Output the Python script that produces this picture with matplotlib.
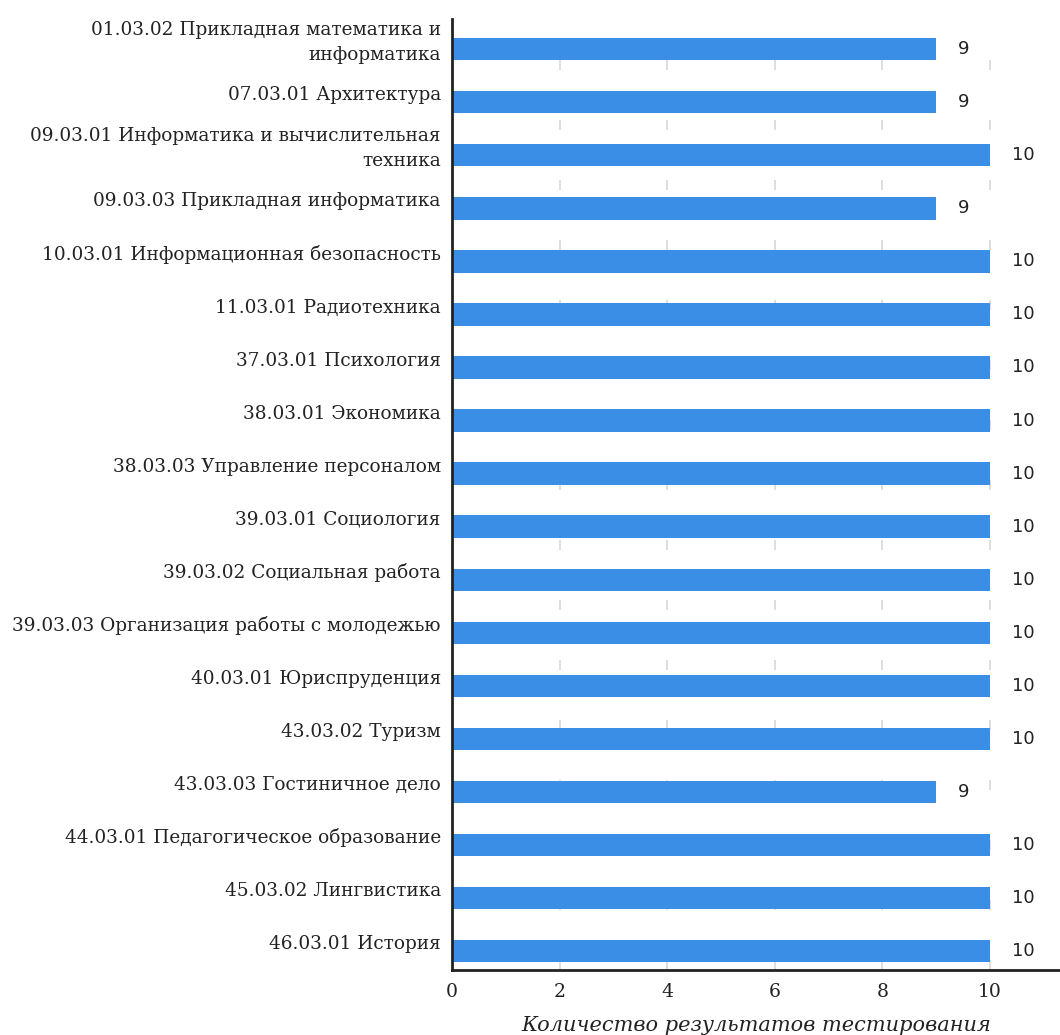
import matplotlib
matplotlib.use("Agg")
import matplotlib.pyplot as plt

programs = [
    "01.03.02 Прикладная математика и\nинформатика",
    "07.03.01 Архитектура",
    "09.03.01 Информатика и вычислительная\nтехника",
    "09.03.03 Прикладная информатика",
    "10.03.01 Информационная безопасность",
    "11.03.01 Радиотехника",
    "37.03.01 Психология",
    "38.03.01 Экономика",
    "38.03.03 Управление персоналом",
    "39.03.01 Социология",
    "39.03.02 Социальная работа",
    "39.03.03 Организация работы с молодежью",
    "40.03.01 Юриспруденция",
    "43.03.02 Туризм",
    "43.03.03 Гостиничное дело",
    "44.03.01 Педагогическое образование",
    "45.03.02 Лингвистика",
    "46.03.01 История",
]
counts = [9, 9, 10, 9, 10, 10, 10, 10, 10, 10, 10, 10, 10, 10, 9, 10, 10, 10]
xticks = [0, 2, 4, 6, 8, 10]

fig = plt.figure(figsize=(10.6, 10.35), dpi=100)
ax = fig.add_axes([0.4264, 0.0628, 0.5736, 0.9188])

pos = list(range(len(programs)))
ax.barh(pos, counts, height=0.42, color="#3a8ee6", zorder=2)

for y, v in zip(pos, counts):
    ax.text(v + 0.4, y, str(v), va="center", ha="left",
            fontsize=13, family="DejaVu Sans", color="#222222")

# category labels sit a little above the bar centre, as in the original
ax.set_yticks(pos)
ax.set_yticklabels([])
for y, name in zip(pos, programs):
    ax.annotate(name, xy=(0, y), xycoords=("axes fraction", "data"),
                xytext=(-8, 5.0), textcoords="offset points",
                ha="right", va="center", multialignment="right",
                family="DejaVu Serif", fontsize=13.3, color="#222222",
                linespacing=1.5, annotation_clip=False)

ax.set_xticks(xticks)
ax.set_xticklabels([str(t) for t in xticks], family="DejaVu Serif",
                   fontsize=13.5, color="#222222")
ax.tick_params(axis="both", length=0)
ax.tick_params(axis="x", pad=9)

ax.set_xlim(0, 11.3)
ax.set_ylim(17.36, -0.57)

ax.grid(axis="x", color="#d8d8d8", linestyle=(0, (6, 30)), linewidth=1.2, zorder=0)
ax.set_axisbelow(True)

for s in ["top", "right"]:
    ax.spines[s].set_visible(False)
ax.spines["left"].set_color("#222222")
ax.spines["left"].set_linewidth(2)
ax.spines["bottom"].set_color("#222222")
ax.spines["bottom"].set_linewidth(2)

ax.set_xlabel("Количество результатов тестирования", family="DejaVu Serif",
              style="italic", fontsize=15, color="#222222", labelpad=11)

fig.savefig("out.png", dpi=100)
